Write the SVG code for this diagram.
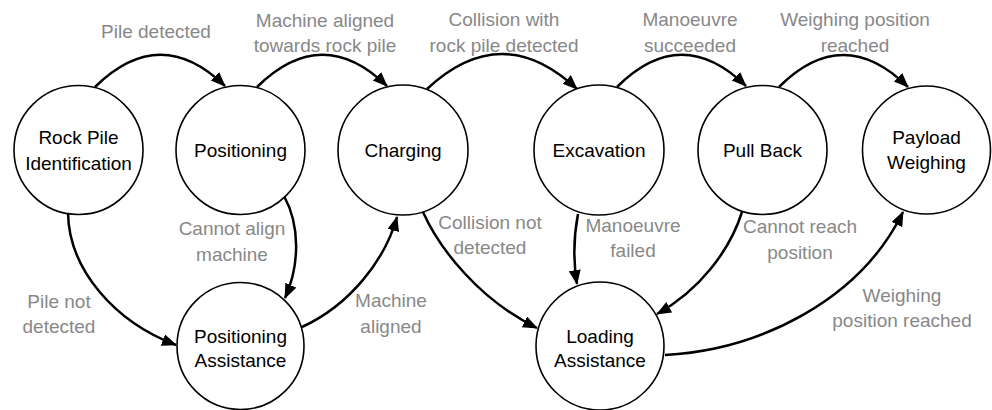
<svg xmlns="http://www.w3.org/2000/svg" width="992" height="410" viewBox="0 0 992 410">
<style>
.node circle{fill:#fff;stroke:#000;stroke-width:1.6}
.node text{font-family:"Liberation Sans",Arial,sans-serif;font-size:19px;fill:#000;text-anchor:middle}
.edge{fill:none;stroke:#000;stroke-width:2.5;marker-end:url(#ah)}
.lbl{font-family:"Liberation Sans",Arial,sans-serif;font-size:19px;fill:#888;text-anchor:middle}
</style>
<defs>
<marker id="ah" markerUnits="userSpaceOnUse" markerWidth="16" markerHeight="14" refX="14" refY="6" orient="auto">
<path d="M0,0 L15,6 L0,12 Z" fill="#000"/>
</marker>
</defs>
<rect width="992" height="410" fill="#fff"/>
<g id="connectors">
<path class="edge" d="M95,87 Q160,23 225,86"/>
<path class="edge" d="M257,87 Q322,23 387,86"/>
<path class="edge" d="M427,89 Q502,19 577,89"/>
<path class="edge" d="M617,87 Q681,23 746,86"/>
<path class="edge" d="M779,87 Q843,23 908,87"/>
<path class="edge" d="M68,213 C69,270 115,322 176,345"/>
<path class="edge" d="M284,196 C300,225 300,265 285,298"/>
<path class="edge" d="M302,327 C350,305 385,260 397,217"/>
<path class="edge" d="M423,212 C440,250 480,300 537,328"/>
<path class="edge" d="M578,214 C573,240 573,260 577,284"/>
<path class="edge" d="M742,212 C730,250 700,290 657,314"/>
<path class="edge" d="M665,355 C760,350 860,300 903,212"/>
</g>
<g id="labels">
<text class="lbl" x="156" y="38">Pile detected</text>
<text class="lbl" x="325" y="27">Machine aligned</text>
<text class="lbl" x="325" y="52">towards rock pile</text>
<text class="lbl" x="504" y="26">Collision with</text>
<text class="lbl" x="504" y="52">rock pile detected</text>
<text class="lbl" x="690" y="26">Manoeuvre</text>
<text class="lbl" x="690" y="52">succeeded</text>
<text class="lbl" x="855" y="26">Weighing position</text>
<text class="lbl" x="855" y="52">reached</text>
<text class="lbl" x="59" y="308">Pile not</text>
<text class="lbl" x="59" y="333">detected</text>
<text class="lbl" x="232" y="235">Cannot align</text>
<text class="lbl" x="232" y="261">machine</text>
<text class="lbl" x="391" y="307">Machine</text>
<text class="lbl" x="391" y="333">aligned</text>
<text class="lbl" x="490" y="229">Collision not</text>
<text class="lbl" x="490" y="254">detected</text>
<text class="lbl" x="633" y="232">Manoeuvre</text>
<text class="lbl" x="633" y="257">failed</text>
<text class="lbl" x="800" y="233">Cannot reach</text>
<text class="lbl" x="800" y="259">position</text>
<text class="lbl" x="902" y="302">Weighing</text>
<text class="lbl" x="902" y="327">position reached</text>
</g>
<g id="rock-pile-identification" class="node"><circle cx="78.5" cy="150" r="64.5"/><text x="78.5" y="144">Rock Pile</text><text x="78.5" y="170">Identification</text></g>
<g id="positioning" class="node"><circle cx="240.5" cy="150" r="64.5"/><text x="240.5" y="157">Positioning</text></g>
<g id="charging" class="node"><circle cx="403" cy="150" r="65"/><text x="403" y="157">Charging</text></g>
<g id="excavation" class="node"><circle cx="599" cy="150" r="65"/><text x="599" y="157">Excavation</text></g>
<g id="pull-back" class="node"><circle cx="762.5" cy="150" r="64.5"/><text x="762.5" y="157">Pull Back</text></g>
<g id="payload-weighing" class="node"><circle cx="926.5" cy="150" r="64"/><text x="926.5" y="144">Payload</text><text x="926.5" y="169">Weighing</text></g>
<g id="positioning-assistance" class="node"><circle cx="240.5" cy="346" r="63.5"/><text x="240.5" y="343">Positioning</text><text x="240.5" y="367">Assistance</text></g>
<g id="loading-assistance" class="node"><circle cx="600" cy="346" r="64"/><text x="600" y="343">Loading</text><text x="600" y="367">Assistance</text></g>
</svg>
